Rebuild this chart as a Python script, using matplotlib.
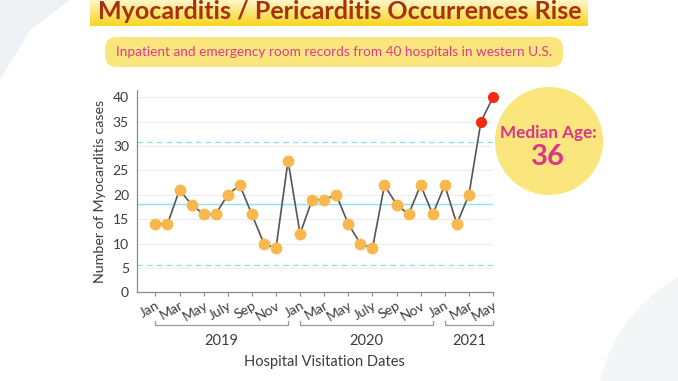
import matplotlib
matplotlib.use("Agg")
import matplotlib.pyplot as plt
import numpy as np
from matplotlib.patches import FancyBboxPatch, Ellipse, Polygon

plt.rcParams['font.family'] = ['Lato', 'DejaVu Sans']

# ---- data ----
month_names = ["Jan", "Feb", "Mar", "Apr", "May", "Jun", "Jul", "Aug", "Sep", "Oct", "Nov", "Dec"]
cases_2019 = [14, 14, 21, 18, 16, 16, 20, 22, 16, 10, 9, 27]
cases_2020 = [12, 19, 19, 20, 14, 10, 9, 22, 18, 16, 22, 16]
cases_2021 = [22, 14, 20, 35, 40]
tick_labels = ["Jan", "Mar", "May", "July", "Sep", "Nov",
               "Jan", "Mar", "May", "July", "Sep", "Nov",
               "Jan", "Mar", "May"]
years = ["2019", "2020", "2021"]
year_months = [12, 12, 5]
upper_limit = 30.8
center_line = 18.2
lower_limit = 5.6
highlight_count = 2  # last points drawn in red

values = cases_2019 + cases_2020 + cases_2021
x = np.arange(len(values))

W, H = 678, 381
fig = plt.figure(figsize=(W / 100, H / 100), dpi=100)
fig.patch.set_facecolor("white")

# background axes in pixel coords
bg = fig.add_axes([0, 0, 1, 1], zorder=0)
bg.set_xlim(0, W)
bg.set_ylim(H, 0)
bg.axis("off")

# faint corner swooshes
bg.add_patch(Polygon([[0, 0], [70, 0], [30, 30], [0, 80]], closed=True,
                     facecolor="#EEF1F4", edgecolor="none"))
bg.add_patch(Ellipse((760, 420), 330, 330, facecolor="#F3F5F7", edgecolor="none"))

# title band with gradient
grad = np.linspace(0, 1, 50).reshape(-1, 1)
cmap = matplotlib.colors.LinearSegmentedColormap.from_list("yb", ["#FFF6C8", "#F8D51E"])
bg.imshow(grad, extent=[90, 588, 26, 0], cmap=cmap, aspect="auto", zorder=1)
bg.text(340, 19, "Myocarditis / Pericarditis Occurrences Rise", ha="center", va="baseline",
        fontsize=18, fontweight="bold", color="#A8300C", zorder=2)

# subtitle box
bg.add_patch(FancyBboxPatch((105, 37), 458, 30, boxstyle="round,pad=0,rounding_size=12",
                            facecolor="#FBE57D", edgecolor="none", zorder=1))
bg.text(334, 52, "Inpatient and emergency room records from 40 hospitals in western U.S.",
        ha="center", va="center", fontsize=9.8, color="#E03A8C", zorder=2)

# median age circle
bg.add_patch(Ellipse((549, 141), 108, 108, facecolor="#FBE57D", edgecolor="none", zorder=1))
bg.text(548, 133, "Median Age:", ha="center", va="center", fontsize=12.3,
        fontweight="bold", color="#D9378A", zorder=2)
bg.text(548, 157, "36", ha="center", va="center", fontsize=21,
        fontweight="bold", color="#D9378A", zorder=2)

# main chart axes
left_px, right_px = 137.3, 493
bottom_px, top_px = 292.3, 90
ax = fig.add_axes([left_px / W, 1 - bottom_px / H, (right_px - left_px) / W,
                   (bottom_px - top_px) / H], zorder=2)
ax.patch.set_alpha(0)
ax.set_xlim(-1.5, len(values) - 1)
ax.set_ylim(0, 41.5)

for yv in range(5, 45, 5):
    ax.axhline(yv, color="#EDEDED", lw=0.8, zorder=0)
ax.axhline(upper_limit, color="#8FE3EA", lw=1.0, ls=(0, (4, 3)), zorder=1)
ax.axhline(center_line, color="#8FE3EA", lw=1.0, zorder=1)
ax.axhline(lower_limit, color="#8FE3EA", lw=1.0, ls=(0, (4, 3)), zorder=1)

ax.plot(x, values, color="#555555", lw=1.2, zorder=2)
n = len(values)
ax.plot(x[:n - highlight_count], values[:n - highlight_count], "o", ms=7.5,
        color="#F9B84E", mec="#F9B84E", zorder=3)
ax.plot(x[n - highlight_count:], values[n - highlight_count:], "o", ms=7,
        color="#F42A10", mec="#F42A10", zorder=3, clip_on=False)

for s in ["top", "right"]:
    ax.spines[s].set_visible(False)
for s in ["left", "bottom"]:
    ax.spines[s].set_color("#8A8A8A")
    ax.spines[s].set_linewidth(0.9)

ax.set_yticks(range(0, 45, 5))
ax.tick_params(axis="y", length=0, labelsize=10, labelcolor="#3C3C3C", pad=6)
ax.set_xticks(x[::2])
ax.set_xticklabels(tick_labels)
ax.tick_params(axis="x", length=3, color="#8A8A8A", labelsize=10, labelcolor="#3C3C3C", pad=2)
for lab in ax.get_xticklabels():
    lab.set_rotation(30)
    lab.set_ha("right")
    lab.set_rotation_mode("anchor")

ax.set_ylabel("Number of Myocarditis cases", fontsize=10.3, color="#3C3C3C", labelpad=5)

# year brackets (in data units below the axis)
start = 0
for yr, cnt in zip(years, year_months):
    x0 = start
    x1 = start + cnt - 1
    ax.plot([x0, x0, x1, x1], [-5.9, -6.8, -6.8, -5.9], color="#9A9A9A", lw=0.9,
            clip_on=False)
    ax.text((x0 + x1) / 2, -9.9, yr, ha="center", va="center", fontsize=10.5,
            color="#3C3C3C")
    start += cnt

ax.text((x[0] + x[-1]) / 2, -14.2, "Hospital Visitation Dates", ha="center", va="center",
        fontsize=10.5, color="#3C3C3C")

fig.savefig("out.png", dpi=100)
